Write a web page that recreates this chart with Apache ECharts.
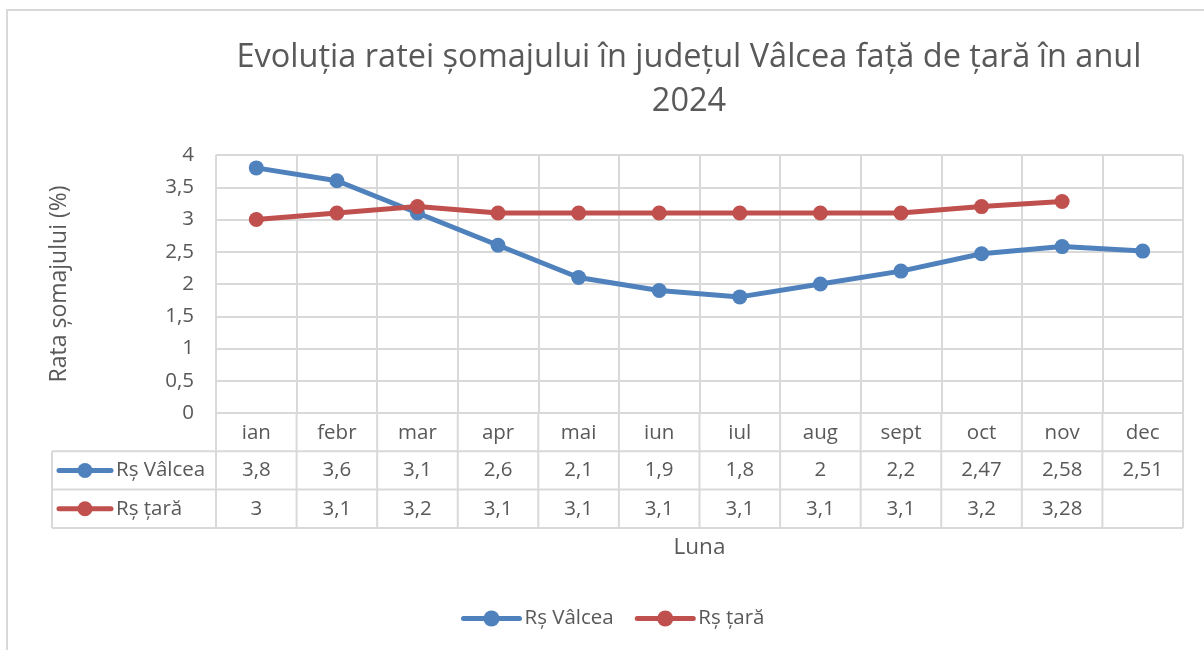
<!DOCTYPE html>
<html><head><meta charset="utf-8">
<script src="https://cdn.jsdelivr.net/npm/echarts@6/dist/echarts.min.js"></script>
<style>html,body{margin:0;padding:0;background:#fff}#c{width:1204px;height:650px}</style>
</head><body><div id="c"></div>
<script>
const titleText = 'Evoluția ratei șomajului în județul Vâlcea față de țară în anul\n2024';
const months = ['ian','febr','mar','apr','mai','iun','iul','aug','sept','oct','nov','dec'];
const seriesNames = ['Rș Vâlcea', 'Rș țară'];
const valcea = [3.8, 3.6, 3.1, 2.6, 2.1, 1.9, 1.8, 2, 2.2, 2.47, 2.58, 2.51];
const tara = [3, 3.1, 3.2, 3.1, 3.1, 3.1, 3.1, 3.1, 3.1, 3.2, 3.28, null];
const yTicks = {min: 0, max: 4, interval: 0.5};
const colors = ['#4F81BD', '#C0504D'];
const FONT = 'Open Sans';
const TXT = '#595959';
const GRIDC = '#D9D9D9';
const FS = 20.5;

const fmt = v => (v === null || v === undefined) ? '' : String(v).replace('.', ',');

const chart = echarts.init(document.getElementById('c'));
const G = {left: 216, right: 21, top: 155, bottom: 237};
const option = {
  backgroundColor: '#fff',
  animation: false,
  textStyle: {fontFamily: FONT, color: TXT},
  title: {
    text: titleText, left: 684, top: 31, textAlign: 'center',
    textStyle: {fontFamily: FONT, fontSize: 32.5, fontWeight: 'normal', color: TXT, lineHeight: 44}
  },
  legend: {
    bottom: 16, left: 456, itemWidth: 56, itemHeight: 20, itemGap: 21,
    textStyle: {fontFamily: FONT, fontSize: FS, color: TXT},
    lineStyle: {width: 5, cap: 'round'},
    data: seriesNames
  },
  grid: G,
  xAxis: {
    type: 'category', data: months, boundaryGap: true,
    axisLine: {lineStyle: {color: GRIDC, width: 2}},
    axisTick: {show: false},
    splitLine: {show: true, lineStyle: {color: GRIDC, width: 2}},
    axisLabel: {fontFamily: FONT, fontSize: FS, color: TXT, margin: 10},
    name: 'Luna', nameLocation: 'middle', nameGap: 123,
    nameTextStyle: {fontFamily: FONT, fontSize: 22.5, color: TXT}
  },
  yAxis: {
    type: 'value', min: yTicks.min, max: yTicks.max, interval: yTicks.interval,
    axisLine: {show: false}, axisTick: {show: false},
    splitLine: {lineStyle: {color: GRIDC, width: 2}},
    axisLabel: {fontFamily: FONT, fontSize: FS, color: TXT, margin: 22, formatter: v => fmt(v)},
    name: 'Rata șomajului (%)', nameLocation: 'middle', nameGap: 145,
    nameTextStyle: {fontFamily: FONT, fontSize: 23, color: TXT}
  },
  series: [
    {name: seriesNames[0], type: 'line', data: valcea, color: colors[0],
     symbol: 'circle', symbolSize: 15, lineStyle: {width: 5}, z: 2},
    {name: seriesNames[1], type: 'line', data: tara, color: colors[1],
     symbol: 'circle', symbolSize: 15, lineStyle: {width: 5}, z: 3}
  ]
};
chart.setOption(option);

// Data table below the plot, positioned from the axis scale
const rows = [valcea, tara];
const H = 650, W = 1204;
const plotBottom = H - G.bottom;
const rowH = 38.3;
const tableLeft = 52;
const n = months.length;
const c0 = chart.convertToPixel({xAxisIndex: 0}, 0);
const c1 = chart.convertToPixel({xAxisIndex: 0}, 1);
const bw = c1 - c0;
const gLeft = c0 - bw / 2;
const gRight = gLeft + bw * n;
const els = [];
const lineSt = {stroke: GRIDC, lineWidth: 2};
els.push({type: 'rect', shape: {x: 7, y: 10, width: W + 10, height: H + 10}, style: {fill: null, stroke: GRIDC, lineWidth: 2}, silent: true});
for (let k = 1; k <= rows.length + 1; k++) {
  const y = plotBottom + rowH * k;
  els.push({type: 'line', shape: {x1: tableLeft, y1: y, x2: gRight, y2: y}, style: lineSt});
}
for (let i = 0; i <= n; i++) {
  const x = gLeft + bw * i;
  els.push({type: 'line', shape: {x1: x, y1: plotBottom, x2: x, y2: plotBottom + rowH * (rows.length + 1)}, style: lineSt});
}
els.push({type: 'line', shape: {x1: tableLeft, y1: plotBottom + rowH, x2: tableLeft, y2: plotBottom + rowH * (rows.length + 1)}, style: lineSt});
rows.forEach((vals, r) => {
  const cy = plotBottom + rowH * (r + 1.5);
  els.push({type: 'line', shape: {x1: 59, y1: cy, x2: 111, y2: cy}, style: {stroke: colors[r], lineWidth: 5, lineCap: 'round'}});
  els.push({type: 'circle', shape: {cx: 85, cy: cy, r: 7.5}, style: {fill: colors[r]}});
  els.push({type: 'text', x: 116, y: cy, style: {text: seriesNames[r], font: FS + 'px "' + FONT + '"', fill: TXT, verticalAlign: 'middle', align: 'left'}});
  vals.forEach((v, i) => {
    const cx = chart.convertToPixel({xAxisIndex: 0}, i);
    els.push({type: 'text', x: cx, y: cy, style: {text: fmt(v), font: FS + 'px "' + FONT + '"', fill: TXT, verticalAlign: 'middle', align: 'center'}});
  });
});
chart.setOption({graphic: {elements: els}});
</script>
</body></html>
